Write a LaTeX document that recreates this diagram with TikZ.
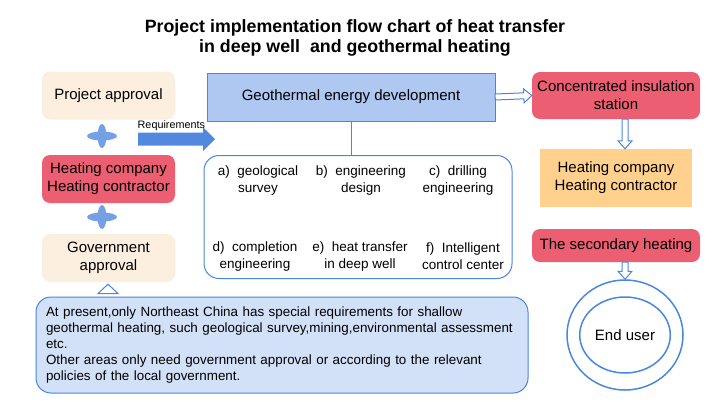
\documentclass[tikz,border=0pt]{standalone}
\usepackage{fontspec}
\setmainfont{Liberation Sans}
\usetikzlibrary{calc,positioning,shapes.geometric}

\definecolor{peach}{HTML}{FCEFDF}
\definecolor{rosered}{HTML}{EC5E72}
\definecolor{amber}{HTML}{FFD18D}
\definecolor{geoblue}{HTML}{AEC8F2}
\definecolor{lineblue}{HTML}{4A86E0}
\definecolor{noteblue}{HTML}{D2E1F7}
\definecolor{starblue}{HTML}{75A0E6}
\definecolor{arrowblue}{HTML}{5089DD}

\begin{document}
\begin{tikzpicture}[x=1pt,y=-1pt,
  txt/.style={font=\fontsize{15}{18}\selectfont,align=center,inner sep=2pt},
  box/.style={txt,rounded corners=8pt,minimum width=133pt,minimum height=48pt},
  item/.style={font=\fontsize{13.5}{17}\selectfont,align=center,inner sep=0pt},
  blockarrow/.style n args={3}{to path={
    -- ($(\tikztostart)!#1!90:(\tikztotarget)$)
    -- ($(\tikztotarget)!#3!(\tikztostart)!#1!-90:(\tikztostart)$)
    -- ($(\tikztotarget)!#3!(\tikztostart)!#2!-90:(\tikztostart)$)
    -- (\tikztotarget)
    -- ($(\tikztotarget)!#3!(\tikztostart)!#2!90:(\tikztostart)$)
    -- ($(\tikztotarget)!#3!(\tikztostart)!#1!90:(\tikztostart)$)
    -- ($(\tikztostart)!#1!-90:(\tikztotarget)$)
    -- cycle}},
  hollow/.style={draw=lineblue,fill=white,line width=1pt,line join=miter,blockarrow={3pt}{7pt}{8pt}}]
\useasboundingbox (0,0) rectangle (720,405);

% title
\node[align=center,font=\fontsize{17.8}{20}\selectfont\bfseries] (title) at (355,38)
  {Project implementation flow chart of heat transfer\\in deep well\ \ and geothermal heating};

% left column
\node[box,fill=peach] (pa) at (108.5,95.5) {Project approval};
\node[box,fill=rosered] (hc) at (108.5,179) {Heating company\\Heating contractor};
\node[box,fill=peach] (ga) at (108.5,258) {Government\\approval};
\fill[starblue] (102,136) ellipse (15 and 4.5);
\fill[starblue] (102,136) ellipse (4.5 and 12);
\fill[starblue] (102,217) ellipse (15 and 4.5);
\fill[starblue] (102,217) ellipse (4.5 and 12);
\coordinate (tri) at (108,293.5);
\draw[lineblue,line width=1pt] ($(tri)+(-10,0)$) -- ($(ga.south -| tri)+(0,2)$) -- ($(tri)+(10,0)$) -- cycle;

% requirements
\coordinate (rq0) at (138,139);
\coordinate (rq1) at (215,139);
\fill[arrowblue,blockarrow={6.5pt}{12pt}{12pt}] (rq0) to (rq1);
\node[font=\fontsize{10.8}{12}\selectfont,inner sep=0pt,anchor=south west] (rqlab) at (137.5,131) {Requirements};

% middle
\node[txt,draw=lineblue,fill=geoblue,minimum width=288pt,minimum height=48pt] (geo) at (351,97)
  {Geothermal energy development};
\node[draw=lineblue,line width=1pt,rounded corners=15pt,minimum width=308pt,minimum height=123pt] (items) at (358,217) {};
\draw[lineblue,line width=1pt] (geo.south) -- (geo.south |- items.north);
\node[item] (ia) at (258,181) {a)\ \ geological\\survey};
\node[item] (ib) at (361,181) {b)\ \ engineering\\design};
\node[item] (ic) at (458,181) {c)\ \ drilling\\engineering};
\node[item] (id) at (255,256.5) {d)\ \ completion\\engineering};
\node[item] (ie) at (360,256.5) {e)\ \ heat transfer\\in deep well};
\node[item] (if) at (463,256.5) {f)\ \ Intelligent\\control center};

% right column
\node[box,fill=rosered,minimum width=168pt,minimum height=47pt] (cis) at (616,95.5)
  {Concentrated insulation\\station};
\node[txt,fill=amber,minimum width=152pt,minimum height=58pt] (hc2) at (616,178)
  {Heating company\\Heating contractor};
\node[box,fill=rosered,minimum width=168pt,minimum height=33pt] (sec) at (616,245.5)
  {The secondary heating};
\node[ellipse,draw=lineblue,line width=1.5pt,minimum width=116pt,minimum height=110pt] (outer) at (625,335) {};
\node[ellipse,draw=lineblue,line width=1.5pt,minimum width=82pt,minimum height=76pt,txt] (user) at (625,335) {End user};

\draw[hollow] (geo.east) to (cis.west);
\draw[hollow] (cis.south -| outer) to (hc2.north -| outer) ;
\draw[hollow] (sec.south -| outer) to (outer.north);

% note
\node[draw=lineblue,fill=noteblue,line width=1pt,rounded corners=15pt,text width=472pt,
  inner xsep=10pt,minimum height=96pt,align=left,font=\fontsize{13.4}{16}\selectfont] (note) at (282,345)
  {At present,only Northeast China has special requirements for shallow\\
   geothermal heating, such geological survey,mining,environmental assessment\\
   etc.\\
   Other areas only need government approval or according to the relevant\\
   policies of the local government.};
\end{tikzpicture}
\end{document}
